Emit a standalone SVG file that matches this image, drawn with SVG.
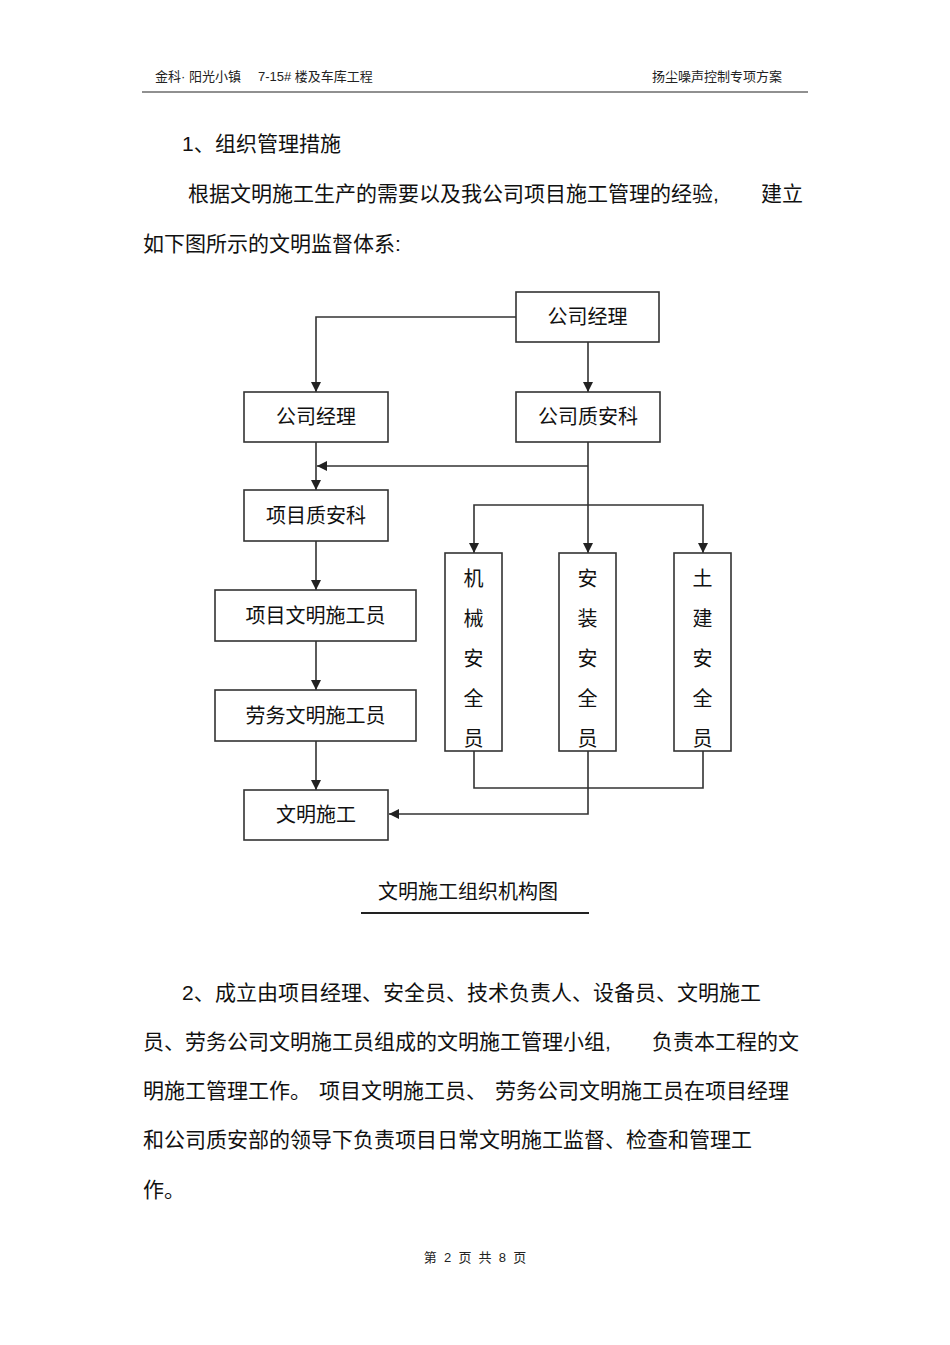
<svg xmlns="http://www.w3.org/2000/svg" width="950" height="1345" viewBox="0 0 950 1345">
<defs>
<style>
.t{font-family:"Liberation Sans","Noto Sans CJK SC",sans-serif;fill:#111}
.h{font-size:13px;fill:#222}
.p{font-size:21px}
.b{font-size:20px}
.box{fill:#fff;stroke:#333;stroke-width:1.6}
.c{fill:none;stroke:#333;stroke-width:1.6}
</style>
<marker id="ah" viewBox="0 0 10 10" refX="10" refY="5" markerWidth="11" markerHeight="10" markerUnits="userSpaceOnUse" orient="auto">
<path d="M0,0 L10,5 L0,10 z" fill="#222"/>
</marker>
</defs>
<rect width="950" height="1345" fill="#fff"/>
<g id="header">
<text class="t h" x="155" y="81">金科· 阳光小镇</text>
<text class="t h" x="258" y="81">7-15# 楼及车库工程</text>
<text class="t h" x="652" y="81">扬尘噪声控制专项方案</text>
<line x1="142" y1="92" x2="808" y2="92" stroke="#222" stroke-width="1.2"/>
</g>
<g id="intro">
<text class="t p" x="182" y="151">1、</text>
<text class="t p" x="215" y="151">组织管理措施</text>
<text class="t p" x="188" y="201">根据文明施工生产的需要以及我公司项目施工管理的经验,</text>
<text class="t p" x="761" y="201">建立</text>
<text class="t p" x="143" y="251">如下图所示的文明监督体系:</text>
</g>
<g id="connectors">
<path class="c" d="M516,317 H316 V392" marker-end="url(#ah)"/>
<path class="c" d="M588,342 V392" marker-end="url(#ah)"/>
<path class="c" d="M588,442 V553" marker-end="url(#ah)"/>
<path class="c" d="M588,466 H317" marker-end="url(#ah)"/>
<path class="c" d="M316,442 V490" marker-end="url(#ah)"/>
<path class="c" d="M588,505 H474 V553" marker-end="url(#ah)"/>
<path class="c" d="M588,505 H703 V553" marker-end="url(#ah)"/>
<path class="c" d="M316,541 V590" marker-end="url(#ah)"/>
<path class="c" d="M316,641 V690" marker-end="url(#ah)"/>
<path class="c" d="M316,741 V790" marker-end="url(#ah)"/>
<path class="c" d="M474,751 V788 H703 V751"/>
<path class="c" d="M588,751 V814 H389" marker-end="url(#ah)"/>
</g>
<g id="n_top">
<rect class="box" x="516" y="292" width="143" height="50"/>
<text class="t b" x="587.5" y="324" text-anchor="middle">公司经理</text>
</g>
<g id="n_mgr">
<rect class="box" x="244" y="392" width="144" height="50"/>
<text class="t b" x="316" y="424" text-anchor="middle">公司经理</text>
</g>
<g id="n_qa">
<rect class="box" x="516" y="392" width="144" height="50"/>
<text class="t b" x="588" y="424" text-anchor="middle">公司质安科</text>
</g>
<g id="n_pqa">
<rect class="box" x="244" y="490" width="144" height="51"/>
<text class="t b" x="316" y="523" text-anchor="middle">项目质安科</text>
</g>
<g id="n_pcw">
<rect class="box" x="215" y="590" width="201" height="51"/>
<text class="t b" x="315.5" y="623" text-anchor="middle">项目文明施工员</text>
</g>
<g id="n_lcw">
<rect class="box" x="215" y="690" width="201" height="51"/>
<text class="t b" x="315.5" y="723" text-anchor="middle">劳务文明施工员</text>
</g>
<g id="n_cw">
<rect class="box" x="244" y="790" width="144" height="50"/>
<text class="t b" x="316" y="822" text-anchor="middle">文明施工</text>
</g>
<g id="n_mech">
<rect class="box" x="445" y="553" width="57" height="198"/>
<text class="t b" text-anchor="middle"><tspan x="473.5" y="586">机</tspan><tspan x="473.5" y="626">械</tspan><tspan x="473.5" y="666">安</tspan><tspan x="473.5" y="706">全</tspan><tspan x="473.5" y="746">员</tspan></text>
</g>
<g id="n_inst">
<rect class="box" x="559" y="553" width="57" height="198"/>
<text class="t b" text-anchor="middle"><tspan x="587.5" y="586">安</tspan><tspan x="587.5" y="626">装</tspan><tspan x="587.5" y="666">安</tspan><tspan x="587.5" y="706">全</tspan><tspan x="587.5" y="746">员</tspan></text>
</g>
<g id="n_civil">
<rect class="box" x="674" y="553" width="57" height="198"/>
<text class="t b" text-anchor="middle"><tspan x="702.5" y="586">土</tspan><tspan x="702.5" y="626">建</tspan><tspan x="702.5" y="666">安</tspan><tspan x="702.5" y="706">全</tspan><tspan x="702.5" y="746">员</tspan></text>
</g>
<g id="caption">
<text class="t b" x="468" y="899" text-anchor="middle">文明施工组织机构图</text>
<line x1="361" y1="913" x2="589" y2="913" stroke="#222" stroke-width="2"/>
</g>
<g id="para2">
<text class="t p" x="182" y="1000">2、</text>
<text class="t p" x="215" y="1000">成立由项目经理、安全员、技术负责人、设备员、文明施工</text>
<text class="t p" x="143" y="1049">员、劳务公司文明施工员组成的文明施工管理小组,</text>
<text class="t p" x="652" y="1049">负责本工程的文</text>
<text class="t p" x="143" y="1098">明施工管理工作。</text>
<text class="t p" x="319" y="1098">项目文明施工员、</text>
<text class="t p" x="495" y="1098">劳务公司文明施工员在项目经理</text>
<text class="t p" x="143" y="1147">和公司质安部的领导下负责项目日常文明施工监督、检查和管理工</text>
<text class="t p" x="143" y="1197">作。</text>
</g>
<g id="footer">
<text class="t h" x="475" y="1262" text-anchor="middle" xml:space="preserve">第  2  页  共  8  页</text>
</g>
</svg>
